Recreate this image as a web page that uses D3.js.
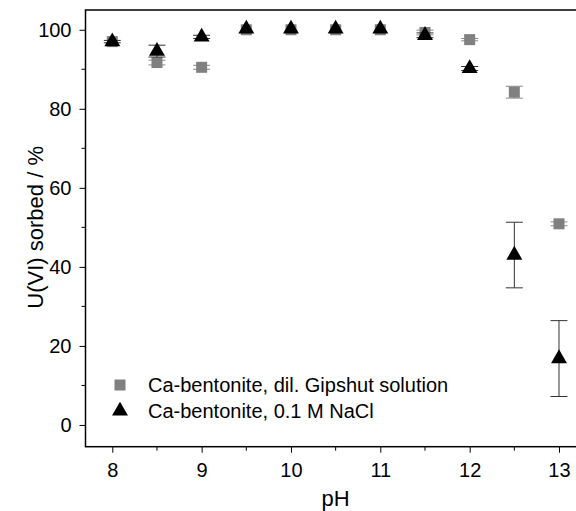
<!DOCTYPE html>
<html>
<head>
<meta charset="utf-8">
<script src="https://cdn.jsdelivr.net/npm/d3@7"></script>
<style>
  body { margin: 0; background: #fff; }
  text { font-family: "Liberation Sans", Arial, sans-serif; }
</style>
</head>
<body>
<div id="chart"></div>
<script>
// Data
const pH = [8, 8.5, 9, 9.5, 10, 10.5, 11, 11.5, 12, 12.5, 13];
const gipshut = [97, 91.7, 90.5, 100, 100, 100, 100, 99.3, 97.5, 84.2, 50.9];
const gipshutErr = [0, 0.6, 0.5, 0, 0, 0, 0, 0.6, 0.3, 1.5, 0.5];
const nacl = [97, 94.6, 98.2, 100.2, 100.2, 100.2, 100.2, 98.6, 90.2, 43, 16.8];
const naclErr = [0.3, 1.5, 0.4, 0, 0, 0, 0, 0.6, 0.5, 8.3, 9.6];
const xTicks = [8, 9, 10, 11, 12, 13];
const yTicks = [0, 20, 40, 60, 80, 100];
const seriesNames = ['Ca-bentonite, dil. Gipshut solution', 'Ca-bentonite, 0.1 M NaCl'];

const width = 576, height = 511;
const plotLeft = 85.5, plotTop = 10, plotRight = 585.8, plotBottom = 446.7;

const svg = d3.select('#chart').append('svg')
    .attr('width', width)
    .attr('height', height);

const x = d3.scaleLinear().domain([7.7, 13.3]).range([plotLeft, plotRight]);
const y = d3.scaleLinear().domain([-5.5, 105]).range([plotBottom, plotTop]);

// minor ticks
const xMinor = d3.range(8.5, 13.3, 1);
const yMinor = d3.range(10, 101, 20);

const gx = svg.append('g').attr('transform', `translate(0,${plotBottom})`);
gx.call(d3.axisBottom(x).tickValues(xTicks).tickSize(6).tickPadding(10).tickFormat(d3.format('d')));
gx.selectAll('.minor').data(xMinor).enter().append('line')
    .attr('x1', d => x(d)).attr('x2', d => x(d))
    .attr('y1', 0).attr('y2', 4)
    .attr('stroke', '#000');

const gy = svg.append('g').attr('transform', `translate(${plotLeft},0)`);
gy.call(d3.axisLeft(y).tickValues(yTicks).tickSize(6).tickPadding(8));
gy.selectAll('.minor').data(yMinor).enter().append('line')
    .attr('x1', 0).attr('x2', -4)
    .attr('y1', d => y(d)).attr('y2', d => y(d))
    .attr('stroke', '#000');

[gx, gy].forEach(g => {
    g.select('.domain').remove();
    g.selectAll('.tick line').attr('stroke', '#000').attr('stroke-width', 1);
    g.selectAll('.tick text')
        .style('font-family', '"Liberation Sans", Arial, sans-serif')
        .style('font-size', '20px')
        .attr('fill', '#000');
});

// frame
svg.append('rect')
    .attr('x', plotLeft).attr('y', plotTop)
    .attr('width', plotRight - plotLeft).attr('height', plotBottom - plotTop)
    .attr('fill', 'none').attr('stroke', '#000').attr('stroke-width', 1.5);

// axis titles
svg.append('text')
    .attr('x', x(10.5)).attr('y', 506)
    .attr('text-anchor', 'middle')
    .style('font-size', '22px')
    .text('pH');

svg.append('text')
    .attr('transform', `translate(43,${y(50)}) rotate(-90)`)
    .attr('text-anchor', 'middle')
    .style('font-size', '22px')
    .text('U(VI) sorbed / %');

const capW = 8.5;
function errorBars(vals, errs, color) {
    const g = svg.append('g');
    pH.forEach((p, i) => {
        const e = errs[i];
        if (!e) return;
        const cx = x(p), y1 = y(vals[i] + e), y2 = y(vals[i] - e);
        g.append('line').attr('x1', cx).attr('x2', cx).attr('y1', y1).attr('y2', y2)
            .attr('stroke', color).attr('stroke-width', 1);
        [y1, y2].forEach(yy => g.append('line')
            .attr('x1', cx - capW).attr('x2', cx + capW).attr('y1', yy).attr('y2', yy)
            .attr('stroke', color).attr('stroke-width', 1));
    });
}

const squarePath = d3.symbol(d3.symbolSquare, 121)();
const trianglePath = d3.symbol(d3.symbolTriangle, 110)();

// gray squares
errorBars(gipshut, gipshutErr, '#888');
svg.append('g').selectAll('path').data(pH).enter().append('path')
    .attr('d', squarePath)
    .attr('transform', (d, i) => `translate(${x(d)},${y(gipshut[i])})`)
    .attr('fill', '#808080');

// black triangles
errorBars(nacl, naclErr, '#333');
svg.append('g').selectAll('path').data(pH).enter().append('path')
    .attr('d', trianglePath)
    .attr('transform', (d, i) => `translate(${x(d)},${y(nacl[i])})`)
    .attr('fill', '#000');

// legend
const legend = svg.append('g');
const legendY = [385, 411];
legend.append('path').attr('d', squarePath)
    .attr('transform', `translate(120,${legendY[0]})`).attr('fill', '#808080');
legend.append('path').attr('d', trianglePath)
    .attr('transform', `translate(120,${legendY[1]})`).attr('fill', '#000');
seriesNames.forEach((name, i) => {
    legend.append('text')
        .attr('x', 148).attr('y', legendY[i] + 7)
        .style('font-size', '20px')
        .text(name);
});
</script>
</body>
</html>
